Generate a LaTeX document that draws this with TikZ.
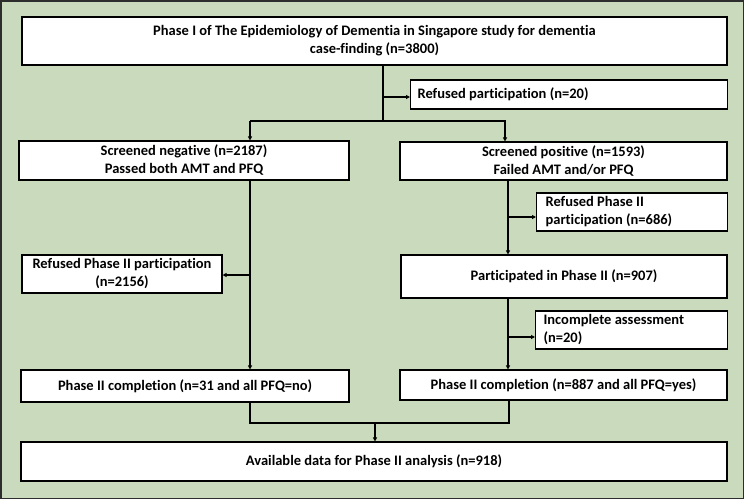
\documentclass[tikz,border=0pt]{standalone}
\usepackage{fontspec}
\setmainfont[Ligatures=NoCommon]{Carlito}
\usetikzlibrary{arrows.meta}
\definecolor{bggreen}{RGB}{201,218,189}
\definecolor{frame}{RGB}{45,45,45}
\tikzset{
  box/.style={draw, fill=white, line width=1.1pt, font=\bfseries\fontsize{14.5}{18}\selectfont, align=center, inner sep=0pt},
  lbox/.style={box, align=flush left, anchor=west},
  link/.style={line width=1.1pt},
  arr/.style={link, -{Triangle[length=4pt,width=4pt]}}
}
\begin{document}
\begin{tikzpicture}[x=1pt, y=-1pt]
 \useasboundingbox (0,0) rectangle (744,499);
 \fill[bggreen, draw=frame, line width=1.5pt] (0.75,0.75) rectangle (743.25,498.25);

	% Boites
 \node[box, minimum width=705pt, minimum height=48pt] (top) at (374.5,41) {Phase I of The Epidemiology of Dementia in Singapore study for dementia\\case-finding (n=3800)};
 \node[lbox, minimum width=317pt, minimum height=29pt, text width=303pt] (ref1) at (410,94.5) {Refused participation (n=20)};
 \node[box, minimum width=330pt, minimum height=39pt] (neg) at (184,160.5) {Screened negative (n=2187)\\Passed both AMT and PFQ};
 \node[box, minimum width=327pt, minimum height=38pt] (pos) at (563.5,161) {Screened positive (n=1593)\\Failed AMT and/or PFQ};
 \node[lbox, minimum width=191pt, minimum height=38pt, text width=173pt] (ref2) at (536,212) {Refused Phase II\\participation (n=686)};
 \node[box, minimum width=200pt, minimum height=38pt] (ref3) at (122,274) {Refused Phase II participation\\(n=2156)};
 \node[box, minimum width=326pt, minimum height=43pt] (part) at (564,276.5) {Participated in Phase II (n=907)};
 \node[lbox, minimum width=192pt, minimum height=38pt, text width=176pt] (inc) at (535,330) {Incomplete assessment\\(n=20)};
 \node[box, minimum width=328pt, minimum height=32pt] (cneg) at (185,386) {Phase II completion (n=31 and all PFQ=no)};
 \node[box, minimum width=327pt, minimum height=30pt] (cpos) at (563.5,385) {Phase II completion (n=887 and all PFQ=yes)};
 \node[box, minimum width=706pt, minimum height=39pt] (final) at (374,461.5) {Available data for Phase II analysis (n=918)};

	% Points de jonction
 \coordinate (j0) at (383,97);
 \coordinate (jl) at (250,121);
 \coordinate (jr) at (505,121);
 \coordinate (b3) at (250,275);
 \coordinate (b2) at (508,217);
 \coordinate (b4) at (508,337);
 \coordinate (jb) at (375,423);
 \coordinate (xr) at (509,0);

	% Liaisons
 \draw[link] (top.south -| j0) -- (j0 |- jl);
 \draw[arr] (j0) -- (j0 -| ref1.west);
 \draw[arr] (jl) -- (neg.north -| jl);
 \draw[arr] (jl) -- (jr) -- (pos.north -| jr);
 \draw[arr] (neg.south -| jl) -- (cneg.north -| jl);
 \draw[arr] (b3) -- (ref3.east |- b3);
 \draw[arr] (pos.south -| b2) -- (part.north -| b2);
 \draw[arr] (b2) -- (b2 -| ref2.west);
 \draw[arr] (part.south -| b4) -- (cpos.north -| b4);
 \draw[arr] (b4) -- (b4 -| inc.west);
 \draw[link] (cneg.south -| jl) |- (jb) -| (cpos.south -| xr);
 \draw[arr] (jb) -- (final.north -| jb);

\end{tikzpicture}
\end{document}
